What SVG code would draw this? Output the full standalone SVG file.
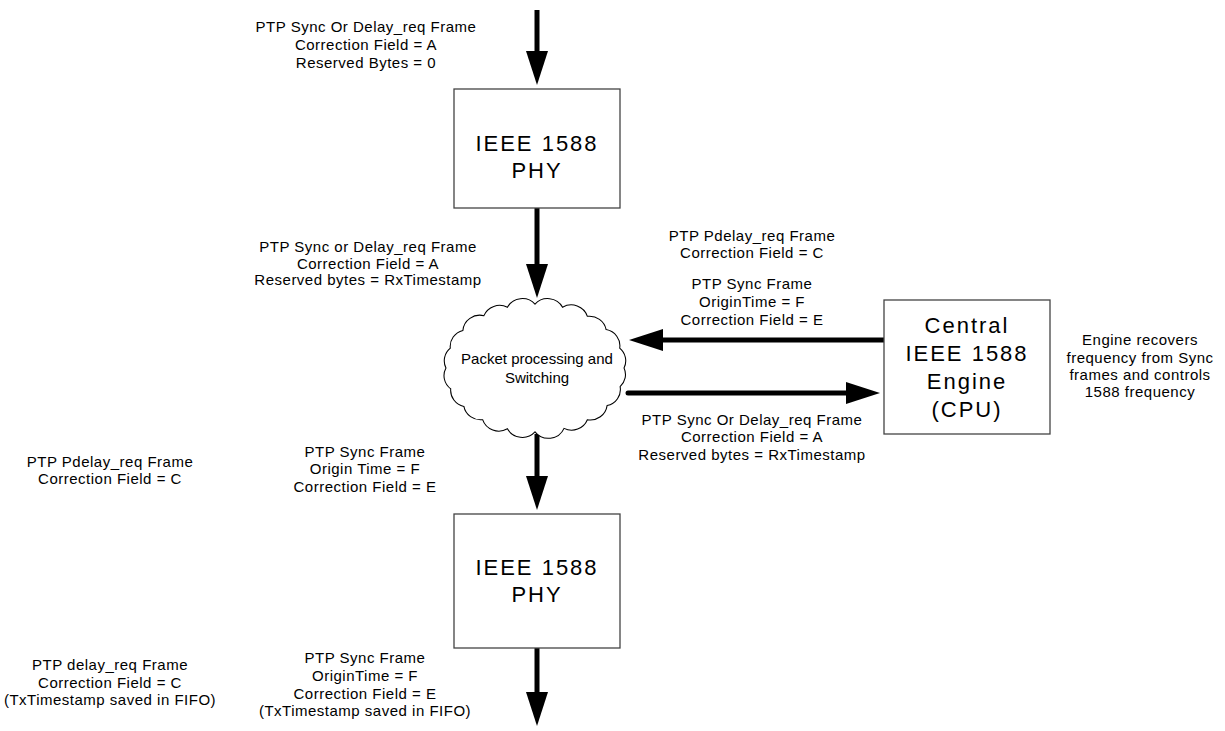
<svg xmlns="http://www.w3.org/2000/svg" width="1225" height="731" viewBox="0 0 1225 731">
<defs>
<marker id="ah" markerUnits="userSpaceOnUse" markerWidth="34" markerHeight="22" refX="19" refY="11" orient="auto">
<path d="M0,0 L34,11 L0,22 z" fill="#000"/>
</marker>
<style>
.box{fill:#fff;stroke:#444;stroke-width:1.3}
.big{font-family:"Liberation Sans",Arial,sans-serif;font-size:22px;letter-spacing:2px;text-anchor:middle;fill:#000}
.lbl{font-family:"Liberation Sans",Arial,sans-serif;font-size:15px;letter-spacing:0.5px;text-anchor:middle;fill:#000}
.cl{font-family:"Liberation Sans",Arial,sans-serif;font-size:15px;text-anchor:middle;fill:#000}
.arr{stroke:#000;stroke-width:5;fill:none;marker-end:url(#ah)}
</style>
</defs>
<rect width="1225" height="731" fill="#fff"/>
<g id="connectors">
<line class="arr" x1="537" y1="10" x2="537" y2="70"/>
<line class="arr" x1="537" y1="208" x2="537" y2="283"/>
<line class="arr" x1="537" y1="434" x2="537" y2="495"/>
<line class="arr" x1="537" y1="648" x2="537" y2="711"/>
<line class="arr" x1="884" y1="340" x2="644" y2="340"/>
<line class="arr" x1="628" y1="393" x2="865" y2="393" stroke-linecap="round"/>
</g>
<g id="phy-top">
<rect class="box" x="454" y="89" width="166" height="119"/>
<text class="big" x="537" y="151">IEEE 1588</text>
<text class="big" x="537" y="178">PHY</text>
</g>
<g id="cloud">
<path transform="translate(535 368) scale(1.06 1.03) translate(-535 -368)" d="M619,368 A16,16 0 0 1 615.3,386.1 A16,16 0 0 1 603,404.5 A16,16 0 0 1 584.4,418.2 A16,16 0 0 1 562.4,426.6 A16,16 0 0 1 535,430 A16,16 0 0 1 509,427 A16,16 0 0 1 485.6,418.2 A16,16 0 0 1 467.9,405.3 A16,16 0 0 1 455.5,388.2 A16,16 0 0 1 451,368 A16,16 0 0 1 455.1,348.8 A16,16 0 0 1 467,331.5 A16,16 0 0 1 486.8,317.2 A16,16 0 0 1 509,309 A16,16 0 0 1 535,306 A16,16 0 0 1 561,309 A16,16 0 0 1 584.4,317.8 A16,16 0 0 1 602.1,330.7 A16,16 0 0 1 614.9,348.8 A16,16 0 0 1 619,368 z" fill="#fff" stroke="#000" stroke-width="1"/>
<text class="cl" x="537" y="364">Packet processing and</text>
<text class="cl" x="537" y="383">Switching</text>
</g>
<g id="phy-bottom">
<rect class="box" x="454" y="514" width="166" height="134"/>
<text class="big" x="537" y="575">IEEE 1588</text>
<text class="big" x="537" y="602">PHY</text>
</g>
<g id="engine">
<rect class="box" x="884" y="300" width="166" height="134"/>
<text class="big" x="967" y="333">Central</text>
<text class="big" x="967" y="361">IEEE 1588</text>
<text class="big" x="967" y="389">Engine</text>
<text class="big" x="967" y="417">(CPU)</text>
</g>
<g id="labels">
<text class="lbl" x="366" y="32">PTP Sync Or Delay_req Frame</text>
<text class="lbl" x="366" y="50">Correction Field =  A</text>
<text class="lbl" x="366" y="68">Reserved Bytes =  0</text>
<text class="lbl" x="368" y="252">PTP Sync or Delay_req Frame</text>
<text class="lbl" x="368" y="269">Correction Field =  A</text>
<text class="lbl" x="368" y="285">Reserved bytes =  RxTimestamp</text>
<text class="lbl" x="752" y="241">PTP Pdelay_req Frame</text>
<text class="lbl" x="752" y="258">Correction Field =  C</text>
<text class="lbl" x="752" y="289">PTP Sync Frame</text>
<text class="lbl" x="752" y="307">OriginTime =  F</text>
<text class="lbl" x="752" y="325">Correction Field =  E</text>
<text class="lbl" x="752" y="425">PTP Sync Or Delay_req Frame</text>
<text class="lbl" x="752" y="442">Correction Field =  A</text>
<text class="lbl" x="752" y="460">Reserved bytes =  RxTimestamp</text>
<text class="lbl" x="1140" y="345">Engine recovers</text>
<text class="lbl" x="1140" y="363">frequency from Sync</text>
<text class="lbl" x="1140" y="380">frames and controls</text>
<text class="lbl" x="1140" y="397">1588 frequency</text>
<text class="lbl" x="110" y="467">PTP Pdelay_req Frame</text>
<text class="lbl" x="110" y="484">Correction Field =  C</text>
<text class="lbl" x="365" y="457">PTP Sync Frame</text>
<text class="lbl" x="365" y="474">Origin Time =  F</text>
<text class="lbl" x="365" y="492">Correction Field =  E</text>
<text class="lbl" x="110" y="670">PTP delay_req Frame</text>
<text class="lbl" x="110" y="688">Correction Field = C</text>
<text class="lbl" x="110" y="705">(TxTimestamp saved in FIFO)</text>
<text class="lbl" x="365" y="663">PTP Sync Frame</text>
<text class="lbl" x="365" y="681">OriginTime =  F</text>
<text class="lbl" x="365" y="699">Correction Field =  E</text>
<text class="lbl" x="365" y="716">(TxTimestamp saved in FIFO)</text>
</g>
</svg>
